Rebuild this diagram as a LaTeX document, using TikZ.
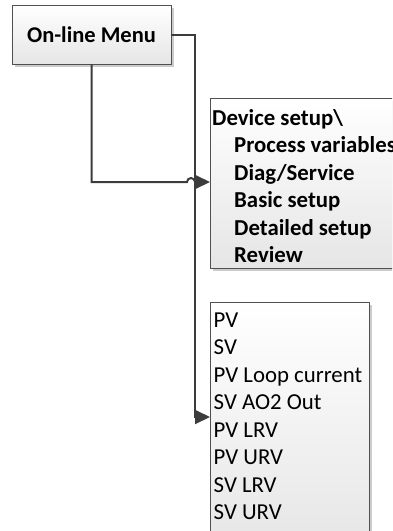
\documentclass[tikz,border=0pt]{standalone}
\usepackage{fontspec}
\setmainfont{Carlito}
\usetikzlibrary{positioning, arrows.meta, shadows}
\definecolor{boxedge}{RGB}{80, 80, 80}
\definecolor{wire}{RGB}{60, 60, 60}

\begin{document}
\begin{tikzpicture}[x=1pt, y=-1pt,
      menubox/.style={draw=boxedge, line width=0.9pt, top color=white, bottom color=black!10,
                      drop shadow={shadow xshift=3pt, shadow yshift=-3pt, fill=black!20, opacity=1},
                      inner sep=0pt},
      itemtext/.style={anchor=north west, inner sep=0pt, align=left,
                       font=\fontsize{22.8}{27.5}\selectfont},
      arr/.style={-{Triangle[length=15pt, width=14pt]}, line width=2pt, color=wire}]
    \clip (0,0) rectangle (392,531);
    % boxes
    \node[menubox, minimum width=159pt, minimum height=59pt,
          font=\fontsize{22.5}{27.5}\selectfont\bfseries] (menu) at (91.5,34.5) {On-line Menu};
    \node[menubox, anchor=north west, minimum width=200pt, minimum height=170pt] (devbox) at (210,98) {};
    \node[menubox, anchor=north west, minimum width=159pt, minimum height=250pt] (pvbox) at (210,302) {};
    % texts
    \node[itemtext, font=\fontsize{22.8}{27.5}\selectfont\bfseries] (devtext)
      at ([xshift=2pt, yshift=-7.75pt]devbox.north west)
      {\strut Device setup\textbackslash\\
       \hspace*{22pt}Process variables\\
       \hspace*{22pt}Diag/Service\\
       \hspace*{22pt}Basic setup\\
       \hspace*{22pt}Detailed setup\\
       \hspace*{22pt}Review};
    \node[itemtext] (pvtext) at ([xshift=3.5pt, yshift=-5.75pt]pvbox.north west)
      {\strut PV\\ SV\\ PV Loop current\\ SV AO2 Out\\ PV LRV\\ PV URV\\ SV LRV\\ SV URV};
    % connectors
    \coordinate (devin) at ([yshift=-84pt]devbox.north west);
    \coordinate (pvin) at ([yshift=-115pt]pvbox.north west);
    \draw[arr] (menu.east) -| ([xshift=-15pt]pvin) -- (pvin);
    \draw[arr] (menu.south) |- ([xshift=-23pt]devin)
      arc[start angle=180, end angle=0, radius=4pt] -- (devin);
  \end{tikzpicture}
\end{document}
